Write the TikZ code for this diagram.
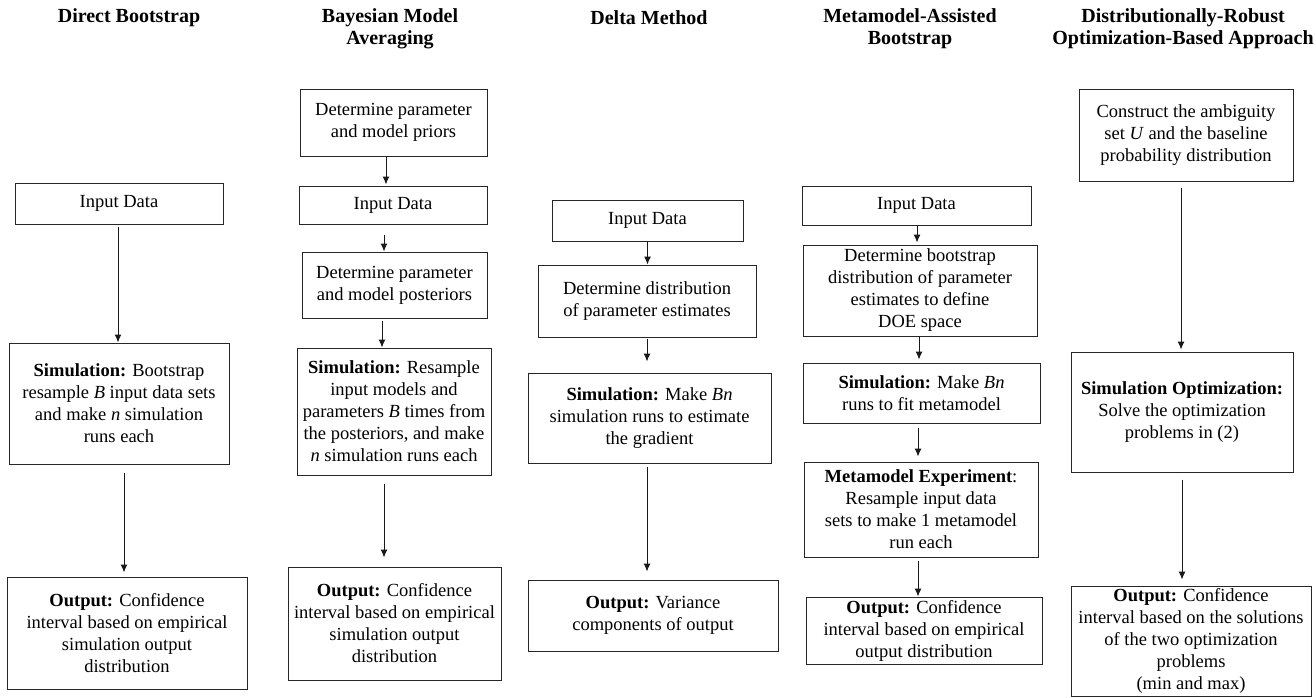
\documentclass[tikz,border=0pt]{standalone}
\usepackage{fontspec}
\setmainfont{Liberation Serif}
\usetikzlibrary{arrows.meta}
\begin{document}
\begin{tikzpicture}[x=1pt,y=-1pt,
  box/.style={draw=black!85, line width=1pt, align=center, inner sep=0pt,
    font=\fontsize{18.5}{22}\selectfont},
  ttl/.style={align=center, inner sep=0pt, font=\bfseries\fontsize{20}{22}\selectfont},
  arr/.style={draw=black!90, line width=1pt, -{Latex[length=8pt,width=7pt]}}]
\useasboundingbox (0,0) rectangle (1316,697);

% titles
\node[ttl] (t1) at (129,18) {Direct Bootstrap};
\node[ttl] (t2) at (390,29) {Bayesian Model\\Averaging};
\node[ttl] (t3) at (649,18) {Delta Method};
\node[ttl] (t4) at (910,29) {Metamodel-Assisted\\Bootstrap};
\node[ttl] (t5) at (1183,29) {Distributionally-Robust\\Optimization-Based Approach};

% column 1
\node[box, minimum width=208pt, minimum height=41pt] (c1a) at (119,203.5) {Input Data};
\node[box, minimum width=220pt, minimum height=121pt] (c1b) at (119,403.5)
  {\textbf{Simulation:} Bootstrap\\resample \textit{B} input data sets\\and make \textit{n} simulation\\runs each};
\node[box, minimum width=240pt, minimum height=112pt] (c1c) at (127,633)
  {\textbf{Output:} Confidence\\interval based on empirical\\simulation output\\distribution};

% column 2
\node[box, minimum width=187pt, minimum height=67pt] (c2a) at (393.5,122.5)
  {Determine parameter\\and model priors};
\node[box, minimum width=188pt, minimum height=38pt] (c2b) at (393,205) {Input Data};
\node[box, minimum width=185pt, minimum height=66pt] (c2c) at (394.5,285)
  {Determine parameter\\and model posteriors};
\node[box, minimum width=194pt, minimum height=127pt] (c2d) at (394,411.5)
  {\textbf{Simulation:} Resample\\input models and\\parameters \textit{B} times from\\the posteriors, and make\\\textit{n} simulation runs each};
\node[box, minimum width=213pt, minimum height=113pt] (c2e) at (394.5,623.5)
  {\textbf{Output:} Confidence\\interval based on empirical\\simulation output\\distribution};

% column 3
\node[box, minimum width=191pt, minimum height=41pt] (c3a) at (647.5,220.5) {Input Data};
\node[box, minimum width=218pt, minimum height=72pt] (c3b) at (647,301)
  {Determine distribution\\of parameter estimates};
\node[box, minimum width=243pt, minimum height=90pt] (c3c) at (649.5,418)
  {\textbf{Simulation:} Make \textit{Bn}\\simulation runs to estimate\\the gradient};
\node[box, minimum width=250pt, minimum height=71pt] (c3d) at (653,615.5)
  {\textbf{Output:} Variance\\components of output};

% column 4
\node[box, minimum width=229pt, minimum height=39pt] (c4a) at (916.5,205.5) {Input Data};
\node[box, minimum width=234pt, minimum height=91pt] (c4b) at (920,290.5)
  {Determine bootstrap\\distribution of parameter\\estimates to define\\DOE space};
\node[box, minimum width=237pt, minimum height=60pt] (c4c) at (921.5,393)
  {\textbf{Simulation:} Make \textit{Bn}\\runs to fit metamodel};
\node[box, minimum width=234pt, minimum height=95pt] (c4d) at (921,509.5)
  {\textbf{Metamodel Experiment}:\\Resample input data\\sets to make 1 metamodel\\run each};
\node[box, minimum width=236pt, minimum height=67pt] (c4e) at (924,630.5)
  {\textbf{Output:} Confidence\\interval based on empirical\\output distribution};

% column 5
\node[box, minimum width=214pt, minimum height=92pt] (c5a) at (1186,135)
  {Construct the ambiguity\\set \textit{U} and the baseline\\probability distribution};
\node[box, minimum width=222pt, minimum height=120pt] (c5b) at (1182,412)
  {\textbf{Simulation Optimization:}\\Solve the optimization\\problems in (2)};
\node[box, minimum width=240pt, minimum height=110pt] (c5c) at (1191,641)
  {\textbf{Output:} Confidence\\interval based on the solutions\\of the two optimization\\problems\\(min and max)};

% arrows column 1
\draw[arr, shorten <=2pt] ([xshift=-1pt]c1a.south) -- ([xshift=-1pt]c1a.south |- c1b.north);
\draw[arr, shorten <=8pt, shorten >=4pt] ([xshift=5pt]c1b.south) -- ([xshift=5pt]c1b.south |- c1c.north);

% arrows column 2
\draw[arr, shorten >=1pt] ([xshift=-7.5pt]c2a.south) -- ([xshift=-7.5pt]c2a.south |- c2b.north);
\draw[arr, shorten <=10pt] ([xshift=-9pt]c2b.south) -- ([xshift=-9pt]c2b.south |- c2c.north);
\draw[arr, shorten <=2pt] ([xshift=-12.5pt]c2c.south) -- ([xshift=-12.5pt]c2c.south |- c2d.north);
\draw[arr, shorten <=8pt, shorten >=9pt] ([xshift=-10pt]c2d.south) -- ([xshift=-10pt]c2d.south |- c2e.north);

% arrows column 3
\draw[arr] (c3a.south) -- (c3a.south |- c3b.north);
\draw[arr, shorten <=1pt, shorten >=11pt] (c3b.south) -- (c3b.south |- c3c.north);
\draw[arr, shorten <=3pt, shorten >=8pt] ([xshift=-2.5pt]c3c.south) -- ([xshift=-2.5pt]c3c.south |- c3d.north);

% arrows column 4
\draw[arr, shorten >=2pt] ([xshift=0.5pt]c4a.south) -- ([xshift=0.5pt]c4a.south |- c4b.north);
\draw[arr, shorten >=3pt] ([xshift=-1pt]c4b.south) -- ([xshift=-1pt]c4b.south |- c4c.north);
\draw[arr, shorten <=4pt, shorten >=5pt] ([xshift=-3.5pt]c4c.south) -- ([xshift=-3.5pt]c4c.south |- c4d.north);
\draw[arr, shorten <=3pt] ([xshift=-3pt]c4d.south) -- ([xshift=-3pt]c4d.south |- c4e.north);

% arrows column 5
\draw[arr, shorten <=6pt, shorten >=2pt] ([xshift=-5pt]c5a.south) -- ([xshift=-5pt]c5a.south |- c5b.north);
\draw[arr, shorten <=7pt, shorten >=6pt] (c5b.south) -- (c5b.south |- c5c.north);
\end{tikzpicture}
\end{document}
